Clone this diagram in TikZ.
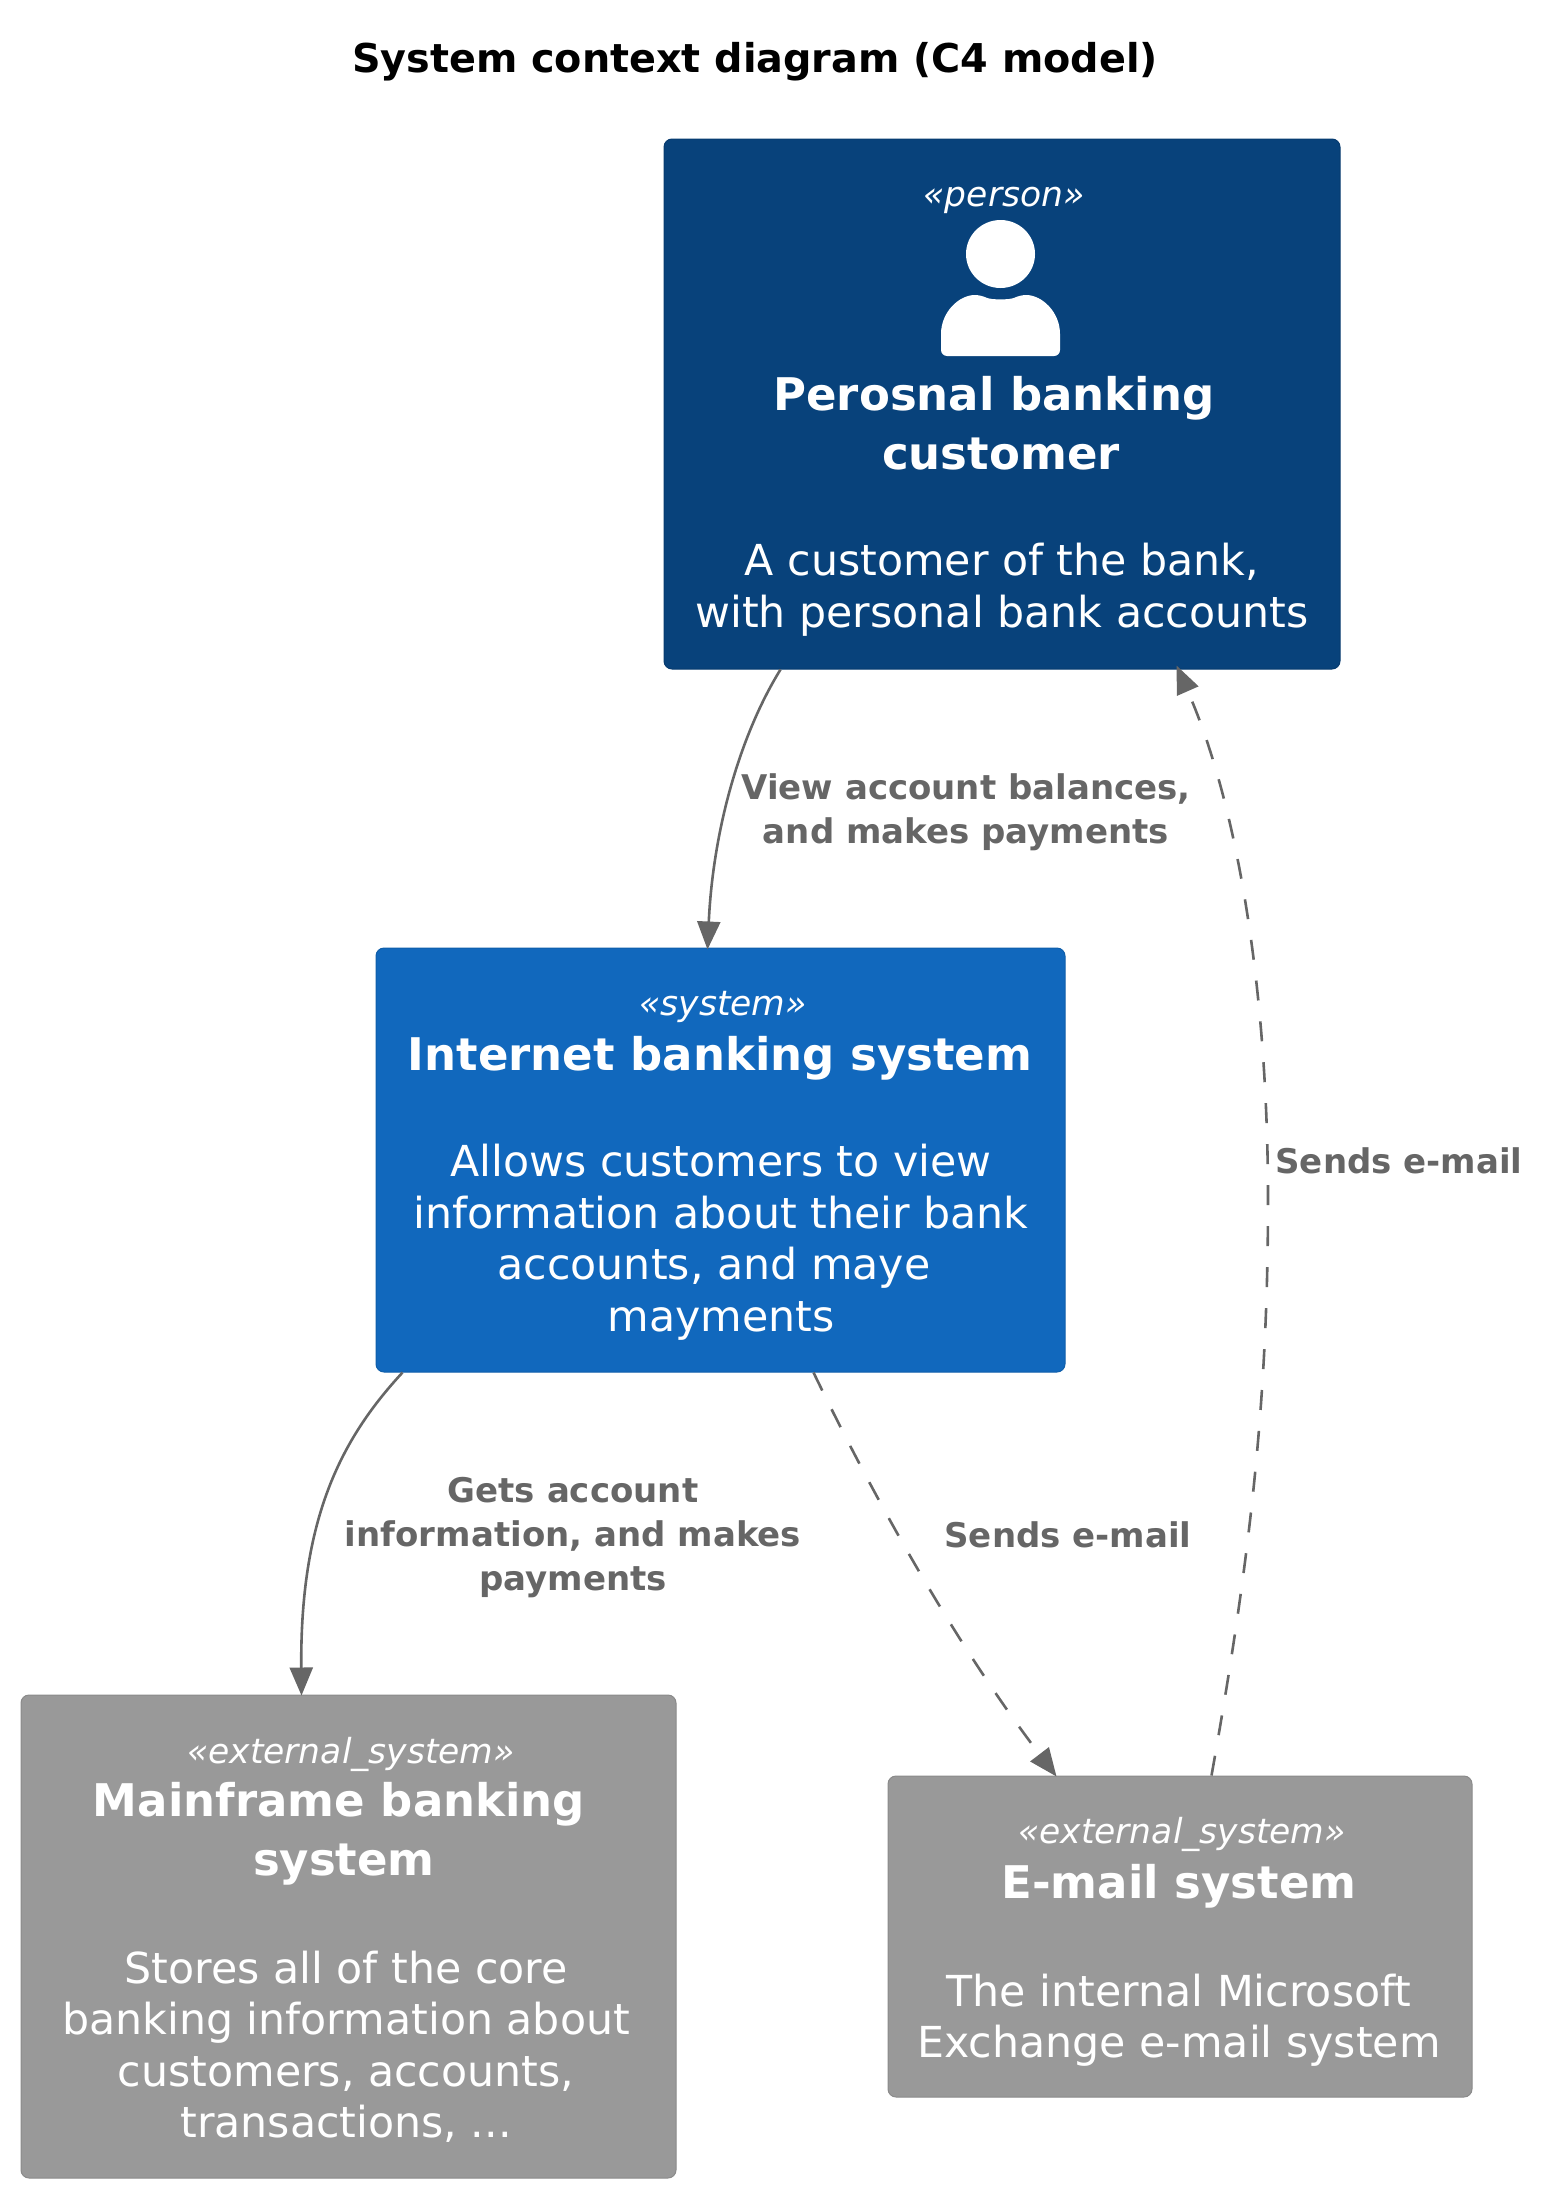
\documentclass[tikz,border=0pt]{standalone}
\usepackage{fontspec}
\setmainfont{DejaVu Sans}
\usetikzlibrary{arrows.meta,calc}
\definecolor{personblue}{HTML}{08427B}
\definecolor{systemblue}{HTML}{1168BD}
\definecolor{extgray}{HTML}{999999}
\definecolor{linegray}{HTML}{666666}
\tikzset{
	box/.style={draw=#1!90!black, fill=#1, rounded corners=8pt, line width=1pt, inner sep=0pt},
	stereo/.style={anchor=base, text=white, font=\fontsize{34.5}{40}\selectfont\itshape},
	boxtitle/.style={anchor=north, text=white, align=center, font=\fontsize{45}{59}\selectfont\bfseries},
	boxdesc/.style={anchor=north, text=white, align=center, font=\fontsize{42.7}{51.5}\selectfont},
	linklabel/.style={anchor=north, text=linegray, align=center, font=\fontsize{34}{44}\selectfont\bfseries},
	link/.style={draw=linegray, line width=2.6pt, -{Triangle[length=28pt,width=23pt]}},
	dashlink/.style={link, dash pattern=on 20pt off 21pt}
}
\begin{document}
\begin{tikzpicture}[x=1pt,y=-1pt]
	\useasboundingbox (0,0) rectangle (1551,2192);
	\node (title) at (755,62) [anchor=center, font=\fontsize{39.7}{48}\selectfont\bfseries] {System context diagram (C4 model)};
	% boxes
	\node (person) at (1002,404) [box=personblue, minimum width=676pt, minimum height=530pt] {};
	\node (system) at (720.5,1160) [box=systemblue, minimum width=689pt, minimum height=424pt] {};
	\node (mainframe) at (348.5,1936.5) [box=extgray, minimum width=655pt, minimum height=483pt] {};
	\node (email) at (1180,1936.5) [box=extgray, minimum width=584pt, minimum height=321pt] {};
	% person box
	\node (personstereo) at (1004,206) [stereo] {«person»};
	\fill[white] (1000.5,254) ellipse [x radius=34.5pt, y radius=34pt];
	\fill[white, rounded corners=6pt] (941,356) -- (941,340) .. controls (941,312) and (959,295) .. (981,295) .. controls (991,300) and (1010,300) .. (1020,295) .. controls (1042,295) and (1060,312) .. (1060,340) -- (1060,356) -- cycle;
	\node (persontitle) at (1001,373) [boxtitle] {Perosnal banking\rule{14pt}{0pt}\\customer};
	\node (persondesc) at (1002,540) [boxdesc] {A customer of the bank,\\with personal bank accounts};
	% system box
	\node (systemstereo) at (723,1015) [stereo] {«system»};
	\node (systemtitle) at (720,1033) [boxtitle] {Internet banking system};
	\node (systemdesc) at (721,1141) [boxdesc] {Allows customers to view\\information about their bank\\accounts, and maye\rule{14pt}{0pt}\\mayments};
	% mainframe box
	\node (mainframestereo) at (351,1763) [stereo] {«external\_system»};
	\node (mainframetitle) at (344,1779) [boxtitle] {Mainframe banking\rule{10pt}{0pt}\\system};
	\node (mainframedesc) at (346,1947) [boxdesc] {Stores all of the core\\banking information about\\customers, accounts,\\transactions, ...};
	% email box
	\node (emailstereo) at (1182,1843) [stereo] {«external\_system»};
	\node (emailtitle) at (1179,1861) [boxtitle] {E-mail system};
	\node (emaildesc) at (1179,1970) [boxdesc] {The internal Microsoft\\Exchange e-mail system};
	% connectors
	\coordinate (personout) at ($(person.south west)+(117,0)$);
	\coordinate (personin) at ($(person.south west)+(513,-4)$);
	\coordinate (systemin) at ($(system.north west)+(332,2)$);
	\coordinate (systemoutleft) at ($(system.south west)+(27,0)$);
	\coordinate (systemoutright) at ($(system.south west)+(438,0)$);
	\coordinate (mainframein) at ($(mainframe.north west)+(281,1)$);
	\coordinate (emailin) at ($(email.north west)+(169,1)$);
	\coordinate (emailout) at ($(email.north west)+(324,0)$);
	\draw[link] (personout) .. controls (740,735) and (713,830) .. (systemin);
	\draw[link] (systemoutleft) .. controls (340,1440) and (300,1520) .. (mainframein);
	\draw[dashlink] (systemoutright) .. controls (880,1510) and (960,1650) .. (emailin);
	\draw[dashlink] (emailout) .. controls (1250,1560) and (1268,1400) .. (1268,1200) .. controls (1268,1000) and (1240,810) .. (personin);
	% connector labels
	\node (viewlabel) at (966,770) [linklabel] {View account balances,\\and makes payments};
	\node (sendslabel) at (1399,1144) [linklabel] {Sends e-mail};
	\node (getslabel) at (573,1474) [linklabel] {Gets account\\information, and makes\\payments};
	\node (sendsmaillabel) at (1068,1518) [linklabel] {Sends e-mail};
\end{tikzpicture}
\end{document}
